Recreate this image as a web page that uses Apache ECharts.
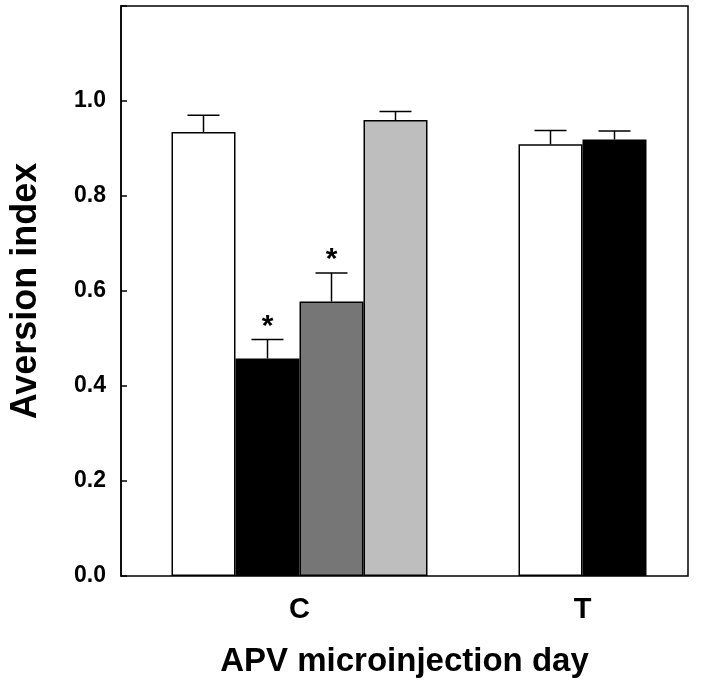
<!DOCTYPE html>
<html>
<head>
<meta charset="utf-8">
<script src="https://cdn.jsdelivr.net/npm/echarts@6/dist/echarts.min.js"></script>
<style>
html,body{margin:0;padding:0;background:#fff;}
#chart{width:720px;height:686px;}
</style>
</head>
<body>
<div id="chart"></div>
<script>
// ---- data ----
var groupC = ['C'];
var groupT = ['T'];
var cMeans = [0.935, 0.458, 0.578, 0.960];
var cErrs  = [0.035, 0.040, 0.060, 0.018];
var cStars = ['', '*', '*', ''];
var tMeans = [0.909, 0.919];
var tErrs  = [0.029, 0.018];
var tStars = ['', ''];
var yTicks = [0.0, 0.2, 0.4, 0.6, 0.8, 1.0];

// ---- style ----
var FONT = '"Liberation Sans", Arial, Helvetica, sans-serif';
var cColors = ['#ffffff', '#000000', '#767676', '#bebebe'];
var tColors = ['#ffffff', '#000000'];
var BAR_W = 64;
var TOP = 6, BOTTOM = 110, LEFT = 110, RIGHT = 32;
var C_CENTER = 299.5, T_CENTER = 582.5, GW = 260;

var chart = echarts.init(document.getElementById('chart'), null, {renderer: 'canvas'});

function barSeries(means, colors, axisIdx, names) {
  return means.map(function (v, i) {
    return {
      type: 'bar',
      name: names[i],
      xAxisIndex: axisIdx,
      yAxisIndex: axisIdx,
      data: [v],
      barWidth: BAR_W,
      barGap: '0%',
      itemStyle: {color: colors[i], borderColor: '#000', borderWidth: 1.5},
      silent: true,
      z: 2
    };
  });
}

function errSeries(means, errs, stars, axisIdx) {
  var n = means.length;
  var data = means.map(function (m, i) { return [0, m, errs[i], i, n, stars[i]]; });
  return {
    type: 'custom',
    xAxisIndex: axisIdx,
    yAxisIndex: axisIdx,
    silent: true,
    z: 3,
    data: data,
    renderItem: function (params, api) {
      var cat = api.value(0), m = api.value(1), e = api.value(2);
      var idx = api.value(3), cnt = api.value(4);
      var star = data[params.dataIndex][5];
      var base = api.coord([cat, m]);
      var x = base[0] + (idx - (cnt - 1) / 2) * BAR_W;
      var yTop = api.coord([cat, m + e])[1];
      var yBar = base[1];
      var half = BAR_W / 4;
      var children = [
        {type: 'line', shape: {x1: x, y1: yBar, x2: x, y2: yTop}, style: {stroke: '#000', lineWidth: 1.5}},
        {type: 'line', shape: {x1: x - half, y1: yTop, x2: x + half, y2: yTop}, style: {stroke: '#000', lineWidth: 1.5}}
      ];
      if (star) {
        children.push({type: 'text', style: {text: star, x: x, y: yTop + 2, align: 'center', verticalAlign: 'bottom',
          font: 'bold 30px ' + FONT, fill: '#000'}});
      }
      return {type: 'group', children: children};
    }
  };
}

var yCommon = {type: 'value', min: 0, max: 1.2, interval: 0.2};

var option = {
  animation: false,
  backgroundColor: '#fff',
  grid: [
    {left: LEFT, right: RIGHT, top: TOP, bottom: BOTTOM, show: true, borderColor: '#000', borderWidth: 1.5, backgroundColor: 'transparent'},
    {left: C_CENTER - GW / 2, width: GW, top: TOP, bottom: BOTTOM},
    {left: T_CENTER - GW / 2, width: GW, top: TOP, bottom: BOTTOM}
  ],
  xAxis: [
    {gridIndex: 0, type: 'value', min: 0, max: 1,
     axisLine: {show: false}, axisTick: {show: false}, axisLabel: {show: false}, splitLine: {show: false},
     name: 'APV microinjection day', nameLocation: 'middle', nameGap: 69,
     nameTextStyle: {fontFamily: FONT, fontWeight: 'bold', fontSize: 33, color: '#000'}},
    {gridIndex: 1, type: 'category', data: groupC,
     axisLine: {show: false}, axisTick: {show: false}, splitLine: {show: false},
     axisLabel: {margin: 19, fontFamily: FONT, fontWeight: 'bold', fontSize: 29, color: '#000'}},
    {gridIndex: 2, type: 'category', data: groupT,
     axisLine: {show: false}, axisTick: {show: false}, splitLine: {show: false},
     axisLabel: {margin: 19, fontFamily: FONT, fontWeight: 'bold', fontSize: 29, color: '#000'}}
  ],
  yAxis: [
    Object.assign({gridIndex: 0,
      axisLine: {show: true, lineStyle: {color: '#000', width: 1.5}},
      axisTick: {show: true, inside: true, length: 6, lineStyle: {color: '#000', width: 1.5}},
      splitLine: {show: false},
      axisLabel: {margin: 15, fontFamily: FONT, fontWeight: 'bold', fontSize: 23, color: '#000',
        formatter: function (v) {
          for (var i = 0; i < yTicks.length; i++) { if (Math.abs(yTicks[i] - v) < 1e-6) return yTicks[i].toFixed(1); }
          return '';
        }},
      name: 'Aversion index', nameLocation: 'middle', nameGap: 77,
      nameTextStyle: {fontFamily: FONT, fontWeight: 'bold', fontSize: 36, color: '#000'}
    }, yCommon),
    Object.assign({gridIndex: 1, show: false, splitLine: {show: false}}, yCommon),
    Object.assign({gridIndex: 2, show: false, splitLine: {show: false}}, yCommon)
  ],
  series: []
    .concat(barSeries(cMeans, cColors, 1, ['c1', 'c2', 'c3', 'c4']))
    .concat(barSeries(tMeans, tColors, 2, ['t1', 't2']))
    .concat([errSeries(cMeans, cErrs, cStars, 1), errSeries(tMeans, tErrs, tStars, 2)])
};

chart.setOption(option);
</script>
</body>
</html>
